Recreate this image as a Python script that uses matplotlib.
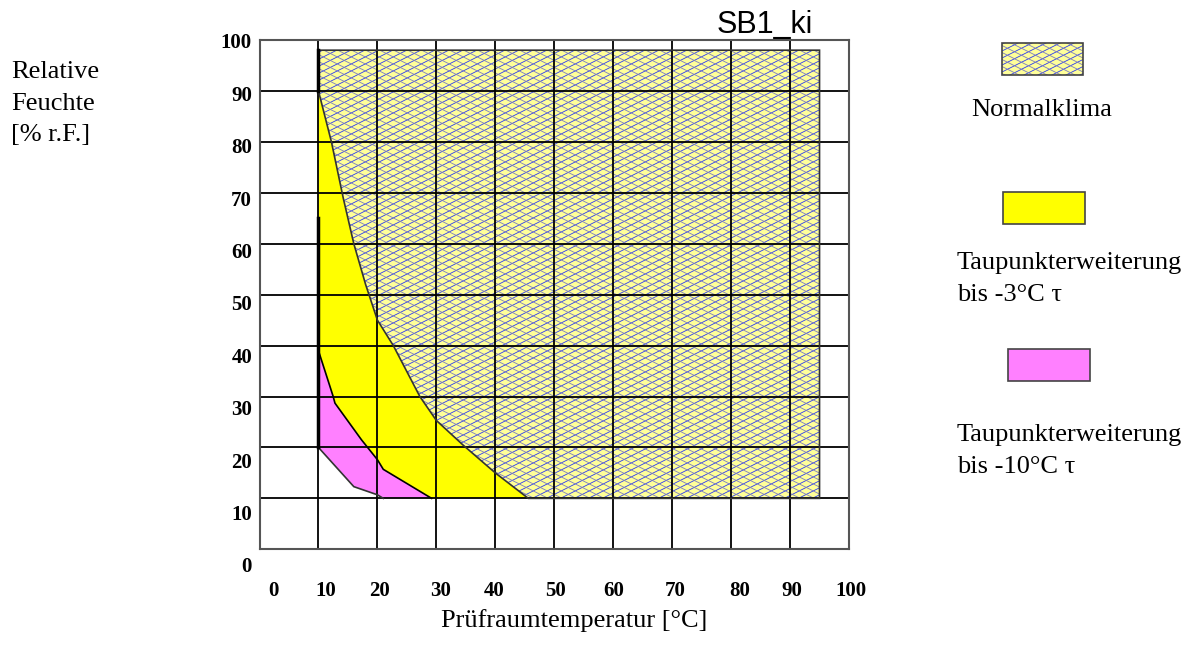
import numpy as np
import matplotlib.pyplot as plt
from matplotlib.patches import Polygon, Rectangle
from matplotlib.collections import LineCollection

W, H = 1191, 664

# Normalklima: lower-left boundary, from (10 °C, 90 %) down to 10 % r.F.
normal_t = [10, 12.2, 14.2, 16, 18, 20, 22.7, 27.2, 30, 34.5, 40, 45.6]
normal_rf = [90, 80, 69, 60, 52, 45, 40, 30, 25.3, 20.5, 15, 10]
normal_t_max = 95
normal_rf_max = 98

# Taupunkterweiterung bis -3°C: lower boundary
tau3_t = [10, 12.5, 12.8, 17.3, 20, 21, 29.2]
tau3_rf = [39, 30, 28.7, 21.5, 17.6, 15.7, 10]

# Taupunkterweiterung bis -10°C: lower boundary
tau10_t = [10, 16, 20, 21]
tau10_rf = [20, 12.3, 10.7, 10]

# thick black edge at 10 °C
edge_top_rf = [98, 90]
edge_low_rf = [65, 20]

ticks = [0, 10, 20, 30, 40, 50, 60, 70, 80, 90, 100]
xlabel_px = [273, 326, 379, 441, 494, 556, 614, 675, 740, 792, 851]

YELLOW = '#ffff00'
PALE = '#ffff99'
MAGENTA = '#ff80ff'
BLUE1 = '#2a3af0'
BLUE2 = '#7c7cc0'


def px(x, y):
    return x / W, 1 - y / H


def diamond_hatch(parent, w, h, clip, step=7.0, zorder=1.1):
    # flat criss-cross pattern (slope +-0.5 in pixels), like the old Excel fill
    for sign, col in ((1, BLUE1), (-1, BLUE2)):
        segs = []
        for c in np.arange(-w, h + w, step):
            u = np.array([0, w])
            v = c + 0.5 * u if sign > 0 else c - 0.5 * u + 0.5 * w
            segs.append(np.column_stack([u / w, v / h]))
        lc = LineCollection(segs, colors=col, linewidths=0.6,
                            transform=parent.transAxes, zorder=zorder)
        lc.set_clip_path(clip)
        parent.add_artist(lc)


fig = plt.figure(figsize=(W / 100, H / 100), dpi=100)
ax_w, ax_h = 589.5, 509.3
ax = fig.add_axes([259.5 / W, 1 - 549.3 / H, ax_w / W, ax_h / H])
ax.set_xlim(0, 100)
ax.set_ylim(0, 100)

normal_pts = [(10, normal_rf_max), (normal_t_max, normal_rf_max), (normal_t_max, 10)]
normal_pts += list(zip(normal_t, normal_rf))[::-1]
yellow_pts = list(zip(normal_t, normal_rf)) + list(zip(tau3_t, tau3_rf))[::-1]
magenta_pts = list(zip(tau3_t, tau3_rf)) + list(zip(tau10_t, tau10_rf))[::-1]

ax.add_patch(Polygon(yellow_pts, closed=True, facecolor=YELLOW, edgecolor='none', zorder=1))
ax.add_patch(Polygon(magenta_pts, closed=True, facecolor=MAGENTA, edgecolor='none', zorder=1))
normal_fill = Polygon(normal_pts, closed=True, facecolor=PALE, edgecolor='none', zorder=1)
ax.add_patch(normal_fill)
diamond_hatch(ax, ax_w, ax_h, normal_fill)
ax.add_patch(Polygon(normal_pts, closed=True, fill=False, edgecolor='#333333', linewidth=1.2, zorder=2))

ax.plot(tau3_t, tau3_rf, color='black', lw=1.2, zorder=2)
ax.plot(tau10_t, tau10_rf, color='#333333', lw=1.2, zorder=2)
ax.plot([10, 10], edge_top_rf, color='black', lw=2.5, zorder=3)
ax.plot([10, 10], edge_low_rf, color='black', lw=2.5, zorder=3)

ax.set_xticks(ticks)
ax.set_yticks(ticks)
ax.tick_params(length=0, labelbottom=False, labelleft=False)
ax.set_axisbelow('line')
ax.grid(True, color='black', lw=1.3)
for s in ax.spines.values():
    s.set_color('#555555')
    s.set_linewidth(1.5)

tick_font = dict(family='Liberation Serif', fontweight='bold', fontsize=15)
for v in ticks:
    fig.text(*px(252, 43.3 + 5.24 * (100 - v)), str(v), ha='right', va='center', **tick_font)
for v, xp in zip(ticks, xlabel_px):
    fig.text(*px(xp, 591), str(v), ha='center', va='center', **tick_font)

serif = dict(family='Liberation Serif', fontsize=19)
for i, line in enumerate(['Relative', 'Feuchte', '[% r.F.]']):
    fig.text(*px(11, 78 + 31.7 * i), line, ha='left', va='baseline', **serif)
fig.text(*px(574, 621), 'Prüfraumtemperatur [°C]', ha='center', va='center', **serif)
fig.text(*px(765, 33), 'SB1_ki', ha='center', va='baseline', family='Liberation Sans',
         fontsize=22)

# legend swatches
sw_ax = fig.add_axes([1002 / W, 1 - 75 / H, 81 / W, 32 / H])
sw_ax.set_axis_off()
sw_rect = Rectangle((0, 0), 1, 1, transform=sw_ax.transAxes, facecolor=PALE,
                    edgecolor='none', clip_on=False)
sw_ax.add_patch(sw_rect)
diamond_hatch(sw_ax, 81, 32, sw_rect)
sw_ax.add_patch(Rectangle((0, 0), 1, 1, transform=sw_ax.transAxes, fill=False,
                          edgecolor='#444444', linewidth=1.2, clip_on=False, zorder=3))
fig.add_artist(Rectangle(px(1003, 224), 82 / W, 32 / H, transform=fig.transFigure,
                         facecolor=YELLOW, edgecolor='#444444', linewidth=1.2))
fig.add_artist(Rectangle(px(1008, 381), 82 / W, 32 / H, transform=fig.transFigure,
                         facecolor=MAGENTA, edgecolor='#444444', linewidth=1.2))

fig.text(*px(1042, 110), 'Normalklima', ha='center', va='center', **serif)
fig.text(*px(957, 263), 'Taupunkterweiterung', ha='left', va='center', **serif)
fig.text(*px(957, 295), 'bis -3°C τ', ha='left', va='center', **serif)
fig.text(*px(957, 435), 'Taupunkterweiterung', ha='left', va='center', **serif)
fig.text(*px(957, 467), 'bis -10°C τ', ha='left', va='center', **serif)

fig.savefig('out.png', dpi=100)
